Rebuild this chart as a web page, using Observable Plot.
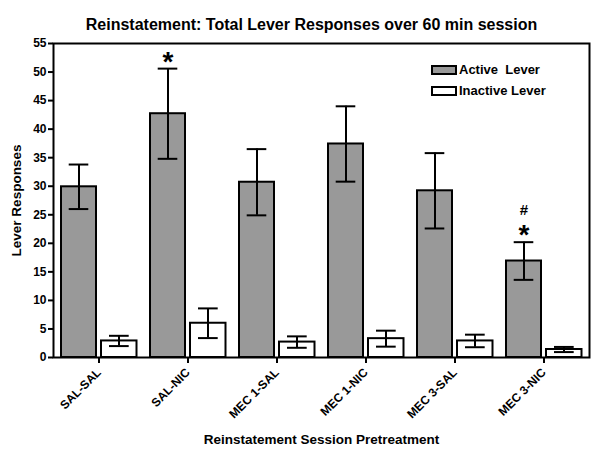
<!DOCTYPE html>
<html>
<head>
<meta charset="utf-8">
<script src="https://cdn.jsdelivr.net/npm/d3@7"></script>
<script src="https://cdn.jsdelivr.net/npm/@observablehq/plot@0.6"></script>
<style>
  html, body { margin: 0; padding: 0; background: #fff; }
  #wrap { position: relative; width: 600px; height: 457px; font-family: "Liberation Sans", Arial, sans-serif; }
  #legend { position: absolute; left: 431px; top: 59px; font-weight: bold; font-size: 13px; color: #000; }
  .row { display: flex; align-items: center; height: 21px; white-space: pre; }
  .sw { width: 22px; height: 6px; border: 2px solid #000; margin-right: 2px; }
</style>
</head>
<body>
<div id="wrap"></div>
<script>
const groups = ["SAL-SAL", "SAL-NIC", "MEC 1-SAL", "MEC 1-NIC", "MEC 3-SAL", "MEC 3-NIC"];
const activeMean = [29.9, 42.7, 30.7, 37.4, 29.2, 16.9];
const activeSem = [3.9, 7.9, 5.8, 6.6, 6.6, 3.3];
const inactiveMean = [2.9, 6.0, 2.7, 3.3, 2.9, 1.4];
const inactiveSem = [0.9, 2.6, 1.0, 1.4, 1.1, 0.45];
const starMarks = ["", "*", "", "", "", "*"];
const hashMarks = ["", "", "", "", "", "#"];
const yTicks = [0, 5, 10, 15, 20, 25, 30, 35, 40, 45, 50, 55];
const seriesNames = ["Active  Lever", "Inactive Lever"];
const titleText = "Reinstatement: Total Lever Responses over 60 min session";
const xLabel = "Reinstatement Session Pretreatment";
const yLabel = "Lever Responses";

const rows = groups.map((g, i) => ({
  group: g,
  active: activeMean[i], activeSem: activeSem[i],
  inactive: inactiveMean[i], inactiveSem: inactiveSem[i],
  star: starMarks[i], hash: hashMarks[i]
}));

const font = "Liberation Sans, Arial, sans-serif";
const grey = "#999999";
const sw = 2;

const chart = Plot.plot({
  width: 600,
  height: 457,
  marginTop: 43,
  marginRight: 11,
  marginBottom: 100,
  marginLeft: 53,
  style: { fontFamily: font, background: "#fff", color: "#000" },
  x: { domain: groups, padding: 0, axis: null },
  y: { domain: [0, 55], axis: null },
  marks: [
    // bars
    Plot.barY(rows, { x: "group", y: "active", fill: grey, stroke: "#000", strokeWidth: sw, insetLeft: 7, insetRight: 47 }),
    Plot.barY(rows, { x: "group", y: "inactive", fill: "#fff", stroke: "#000", strokeWidth: sw, insetLeft: 47, insetRight: 6.5 }),
    // error bars: active
    Plot.ruleX(rows, { x: "group", y1: d => d.active - d.activeSem, y2: d => d.active + d.activeSem, dx: -20, stroke: "#000", strokeWidth: sw }),
    Plot.tickY(rows, { x: "group", y: d => d.active + d.activeSem, insetLeft: 14.7, insetRight: 54.7, stroke: "#000", strokeWidth: sw }),
    Plot.tickY(rows, { x: "group", y: d => d.active - d.activeSem, insetLeft: 14.7, insetRight: 54.7, stroke: "#000", strokeWidth: sw }),
    // error bars: inactive
    Plot.ruleX(rows, { x: "group", y1: d => d.inactive - d.inactiveSem, y2: d => d.inactive + d.inactiveSem, dx: 20, stroke: "#000", strokeWidth: sw }),
    Plot.tickY(rows, { x: "group", y: d => d.inactive + d.inactiveSem, insetLeft: 55, insetRight: 14.3, stroke: "#000", strokeWidth: sw }),
    Plot.tickY(rows, { x: "group", y: d => d.inactive - d.inactiveSem, insetLeft: 55, insetRight: 14.3, stroke: "#000", strokeWidth: sw }),
    // significance marks
    Plot.text(rows.filter(d => d.star), { x: "group", y: d => d.active + d.activeSem, text: "star", dx: -20, dy: -7, fontSize: 28, fontWeight: "bold", lineAnchor: "middle" }),
    Plot.text(rows.filter(d => d.hash), { x: "group", y: d => d.active + d.activeSem, text: "hash", dx: -20, dy: -32, fontSize: 15, fontWeight: "bold", lineAnchor: "middle" }),
    // axes
    Plot.axisY({ ticks: yTicks, tickSize: 5, tickPadding: 2, fontSize: 12, fontWeight: "bold", strokeWidth: 2, label: null }),
    Plot.axisX({ tickSize: 6, tickPadding: 7, tickRotate: -45, fontSize: 12, fontWeight: "bold", strokeWidth: 2, label: null }),
    Plot.frame({ stroke: "#000", strokeWidth: 2 }),
    // titles
    Plot.text([titleText], { text: d => d, frameAnchor: "top", dy: -25, dx: -10, fontSize: 16, fontWeight: "bold" }),
    Plot.text([yLabel], { text: d => d, frameAnchor: "left", textAnchor: "middle", rotate: -90, dx: -37, fontSize: 13.5, fontWeight: "bold" }),
    Plot.text([xLabel], { text: d => d, frameAnchor: "bottom", dy: 86, fontSize: 13.5, fontWeight: "bold" })
  ]
});

const wrap = document.getElementById("wrap");
wrap.appendChild(chart);

const legend = document.createElement("div");
legend.id = "legend";
const fills = [grey, "#fff"];
seriesNames.forEach((name, i) => {
  const row = document.createElement("div");
  row.className = "row";
  const s = document.createElement("span");
  s.className = "sw";
  s.style.background = fills[i];
  const t = document.createElement("span");
  t.textContent = name;
  row.appendChild(s);
  row.appendChild(t);
  legend.appendChild(row);
});
wrap.appendChild(legend);
</script>
</body>
</html>
